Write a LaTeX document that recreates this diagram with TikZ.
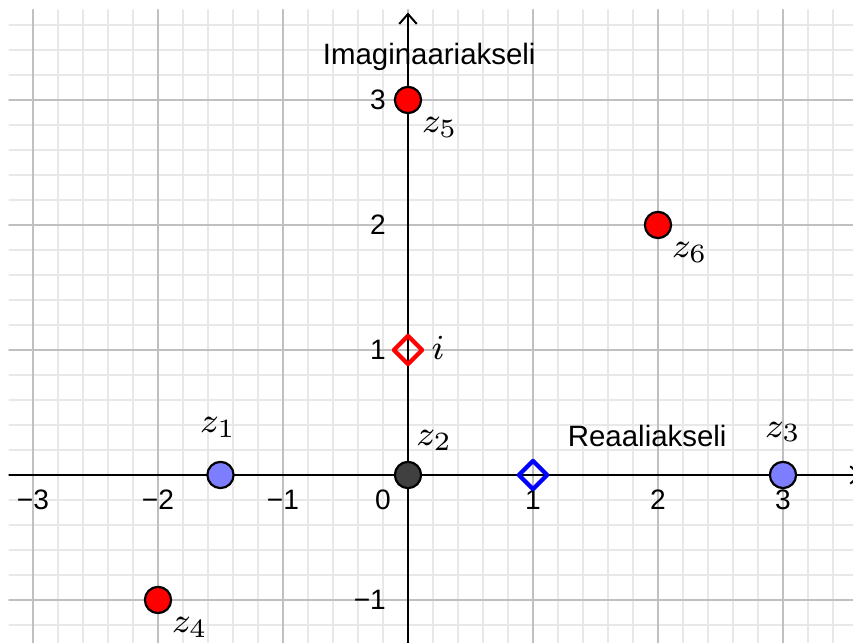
\documentclass[tikz,border=0pt]{standalone}
\usepackage[no-math]{fontspec}
\setmainfont{Liberation Sans}
\usetikzlibrary{arrows.meta,shapes.geometric}
\definecolor{ggred}{RGB}{255,0,0}
\definecolor{ggblue}{RGB}{125,125,255}
\definecolor{ggdark}{RGB}{64,64,64}
\definecolor{ggmajor}{RGB}{192,192,192}
\definecolor{ggminor}{RGB}{232,232,232}
\begin{document}
\begin{tikzpicture}[>={Straight Barb[length=0.8mm,width=1.4mm]},line join=round,line cap=round,font=\fontsize{6.4}{7}\selectfont]
	\tikzset{declare function={
			x1=-3.264;x2=3.56;y1=-1.344;y2=3.8;
			gx=-3.19;gy=3.72;
		},
		zlab/.style={font=\fontsize{8.3}{9}\selectfont,inner sep=0pt},
		axlab/.style={font=\fontsize{6.7}{8}\selectfont,inner sep=0pt,anchor=base west},
		pkt/.style={diamond,draw=#1,line width=0.95pt,inner sep=0pt,minimum size=2.4mm},
	}
	\useasboundingbox (x1,y1) rectangle (x2,y2);
	\draw[ggminor,line width=0.35pt,step=0.2] (gx,y1) grid (x2,gy);
	\draw[ggmajor,line width=0.5pt,step=1] (gx,y1) grid (x2,gy);
	\draw[->,line width=0.45pt] (gx,0)--(3.63,0);
	\draw[->,line width=0.45pt] (0,y1)--(0,3.7);
	\node[axlab] (imag) at (-0.688,3.28) {Imaginaariakseli};
	\node[axlab] (real) at (1.272,0.224) {Reaaliakseli};
	\foreach \x/\t in {-3/−3,-2/−2,-1/−1,1/1,2/2,3/3}{
		\node[inner sep=0pt] (tx\x) at (\x,-0.2) {\t};
	}
	\node[inner sep=0pt] (t0) at (-0.2,-0.2) {0};
	\foreach \y/\t in {-1/−1,1/1,2/2,3/3}{
		\node[inner sep=0pt,anchor=east] (ty\y) at (-0.17,\y) {\t};
	}
	\path (-1.5,0)coordinate (z1) (0,0)coordinate (z2) (3,0)coordinate (z3)
		(-2,-1)coordinate (z4) (0,3)coordinate (z5) (2,2)coordinate (z6)
		(0,1)coordinate (I) (1,0)coordinate (E);
	\node[pkt=ggred] (dI) at (I) {};
	\node[pkt=blue] (dE) at (E) {};
	\path (I)+(0.24,0.016)node[zlab] (li) {$i$};
	\foreach \point/\col/\goc/\d/\lab in {z1/ggblue/93/3.84mm/z_1,z2/ggdark/53/3.5mm/z_2,z3/ggblue/90/3.44mm/z_3,z4/ggred/-41/3.38mm/z_4,z5/ggred/-41/3.38mm/z_5,z6/ggred/-41/3.38mm/z_6}{
		\draw[fill=\col,line width=0.5pt](\point)circle(1.05mm)+(\goc:\d)node[zlab] (l\point) {$\lab$};
	}
\end{tikzpicture}
\end{document}
